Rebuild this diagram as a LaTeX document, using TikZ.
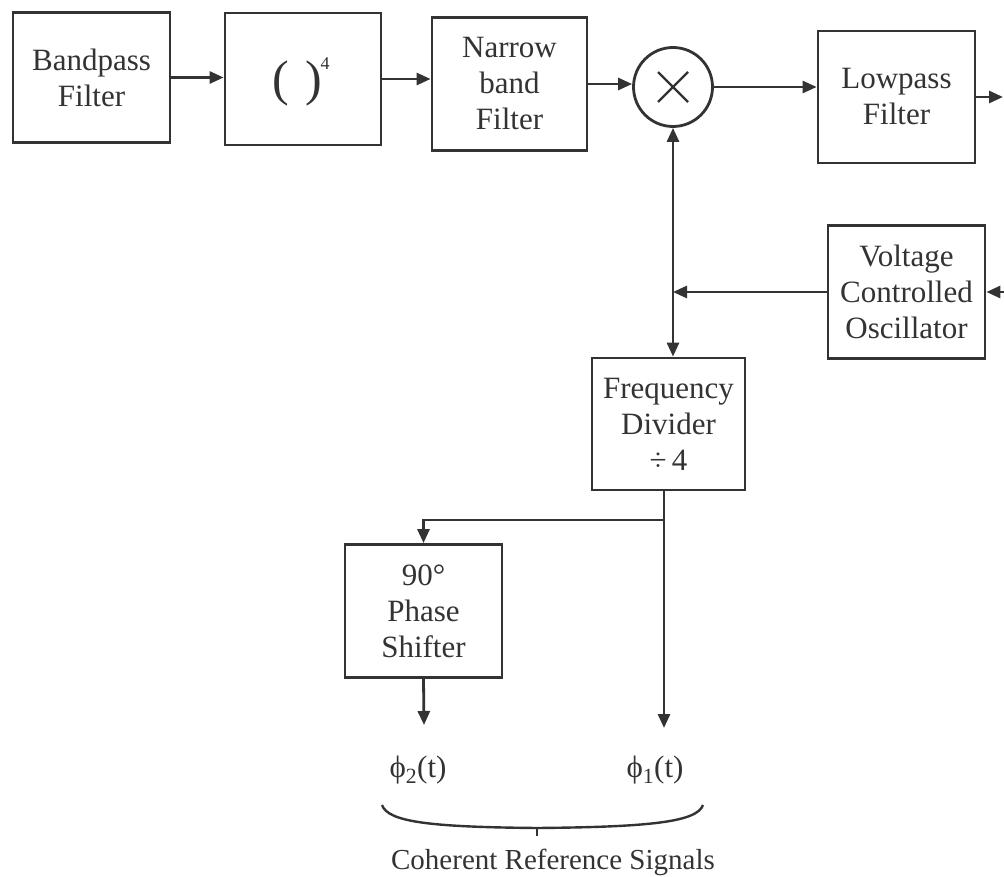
\documentclass[tikz,border=0pt]{standalone}
\usepackage{fontspec}
\setmainfont{Liberation Serif}
\usetikzlibrary{arrows.meta,calc}
\definecolor{ink}{HTML}{333333}
\begin{document}
\begin{tikzpicture}[x=1pt,y=-1pt,
  blk/.style={draw=ink,line width=2.8pt,align=center,inner sep=0pt,text=ink,
    font=\fontsize{31}{36}\selectfont},
  conn/.style={draw=ink,line width=2.8pt},
  arr/.style={conn,-{Triangle[length=14pt,width=12pt]}},
  arrb/.style={conn,{Triangle[length=14pt,width=12pt]}-{Triangle[length=14pt,width=12pt]}},
  lbl/.style={text=ink,inner sep=0pt,font=\fontsize{31}{36}\selectfont}]
\useasboundingbox (0,0) rectangle (1004,877);
\fill[white] (0,0) rectangle (1004,877);

\node[blk,minimum width=157pt,minimum height=130pt] (bpf) at (91.5,77.5) {Bandpass\\Filter};
\node[blk,minimum width=156pt,minimum height=132pt] (pow) at (303,79) {};
\node[text=ink,inner sep=0pt,font=\fontsize{50}{50}\selectfont] (par) at (297,83) {(\,\,)};
\node[text=ink,inner sep=0pt,font=\fontsize{18}{18}\selectfont] (sup) at (325,64) {4};
\node[blk,minimum width=155pt,minimum height=133pt] (nbf) at (509.5,84) {Narrow\\band\\Filter};
\node[draw=ink,line width=2.8pt,circle,minimum size=79pt,inner sep=0pt] (mult) at (673,87) {};
\draw[ink,line width=2.2pt] ($(mult)+(-15,-15)$) -- ($(mult)+(15,15)$);
\draw[ink,line width=2.2pt] ($(mult)+(-15,15)$) -- ($(mult)+(15,-15)$);
\node[blk,minimum width=157pt,minimum height=132pt] (lpf) at (896.5,97) {Lowpass\\Filter};
\node[blk,minimum width=157pt,minimum height=133pt] (vco) at (906.5,292) {Voltage\\Controlled\\Oscillator};
\node[blk,minimum width=153pt,minimum height=132pt] (fd) at (668.5,424) {Frequency\\Divider\\÷\,4};
\node[blk,minimum width=157pt,minimum height=133pt] (ps) at (423.5,611) {90°\\Phase\\Shifter};

\node[lbl] (phi2) at (418,770) {ϕ\textsubscript{2}(t)};
\node[lbl] (phi1) at (655,770) {ϕ\textsubscript{1}(t)};
\node[lbl,font=\fontsize{29}{32}\selectfont] (coh) at (553,862) {Coherent Reference Signals};

\coordinate (out) at (1003,97);
\coordinate (vin) at (1004,292);
\coordinate (split) at (664,520);
\coordinate (p1) at (664,728);
\coordinate (p2) at (424,725);

\draw[arr] (bpf.east) -- (pow.west |- bpf.east);
\draw[arr] (pow.east) -- (nbf.west |- pow.east);
\draw[arr] (nbf.east) -- (nbf.east -| mult.west);
\draw[arr] (mult.east) -- (lpf.west |- mult.east);
\draw[arr] (lpf.east) -- (out);
\draw[arr] (vin) -- (vco.east);
\draw[arrb] (mult.south) -- (fd.north -| mult.south);
\draw[arr] (vco.west) -- (mult.south |- vco.west);
\draw[conn] (fd.south -| split) -- (split);
\draw[arr] (split) -- (p1);
\draw[arr] (split) -| (ps.north);
\draw[arr] (ps.south) -- (p2);

\draw[ink,line width=2.4pt] (382,805) .. controls (388,822) and (430,827) .. (537,828)
  .. controls (650,827) and (697,822) .. (703,805);
\draw[ink,line width=2.4pt] (537,828) -- (537,836);
\end{tikzpicture}
\end{document}
